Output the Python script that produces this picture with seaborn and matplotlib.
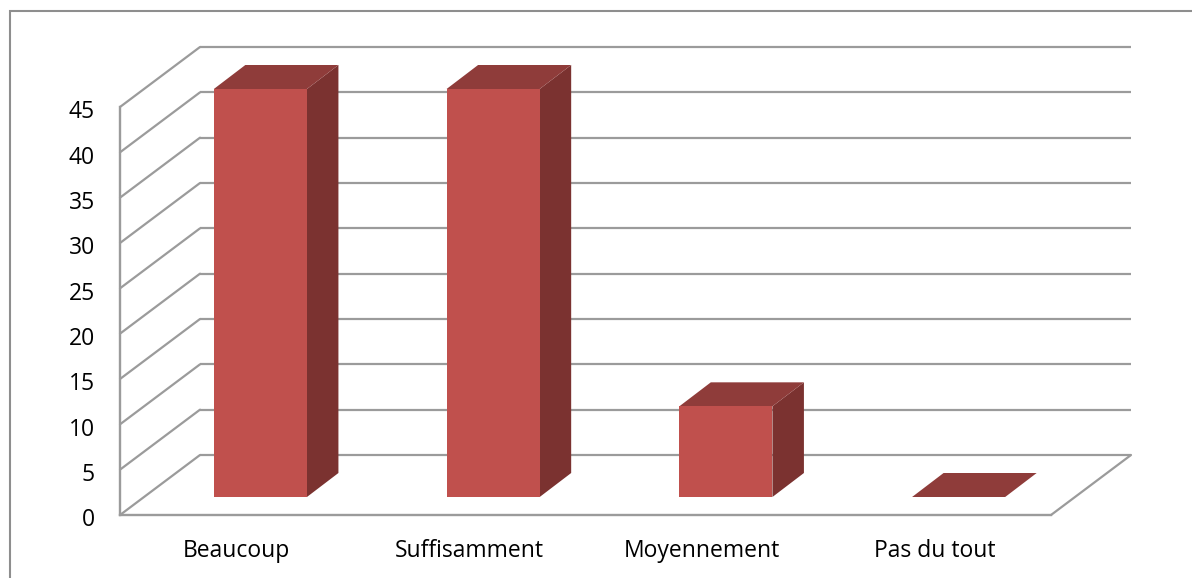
import matplotlib
matplotlib.use("Agg")
import matplotlib.pyplot as plt
from matplotlib.patches import Polygon, Rectangle
from matplotlib.transforms import Affine2D
import seaborn as sns

categories = ["Beaucoup", "Suffisamment", "Moyennement", "Pas du tout"]
values = [45, 45, 10, 0]
y_ticks = [0, 5, 10, 15, 20, 25, 30, 35, 40, 45]

FRONT = "#C0504D"
SIDE = "#7B3230"
TOP = "#8F3C3A"
GRID = "#9B9B9B"
FRAME = "#8E8E8E"

W, H = 1192, 578
sns.set_theme(style="white")
plt.rcParams["font.family"] = ["Open Sans", "DejaVu Sans"]

fig = plt.figure(figsize=(W / 100, H / 100), dpi=100, facecolor="white")

# Outer chart frame, cut off by the right and bottom edges of the figure
fig.add_artist(Rectangle((10 / W, -0.1), 1.2, 1.1 - 11 / H, transform=fig.transFigure,
                         fill=False, edgecolor=FRAME, linewidth=1.5))

# Axes rectangle is the front plane of the pseudo-3D box
ax = fig.add_axes([120 / W, 1 - 515 / H, (1051 - 120) / W, (515 - 107) / H])
ax.patch.set_alpha(0)

# Perspective offsets in display pixels (y upward)
wall_shift = Affine2D().translate(80, 60)
bar_shift = Affine2D().translate(24, 18)
bar_depth = Affine2D().translate(31.5, 24)

sns.barplot(x=categories, y=values, color=FRONT, saturation=1, width=0.4, ax=ax, zorder=4)
ax.set_xlim(-0.5, 3.5)
ax.set_ylim(0, 45)

# Back wall gridlines, side wall diagonals and the floor
x_left, x_right = ax.get_xlim()
back = ax.transData + wall_shift
for tick in y_ticks:
    ax.plot([x_left, x_right], [tick, tick], color=GRID, lw=1.6, transform=back,
            clip_on=False, zorder=1, solid_capstyle="butt")
    start = ax.transData.transform((x_left, tick))
    end = back.transform((x_left, tick))
    inv = ax.transData.inverted()
    (sx, sy), (ex, ey) = inv.transform(start), inv.transform(end)
    ax.plot([sx, ex], [sy, ey], color=GRID, lw=1.6, clip_on=False, zorder=1)
corner = ax.transData.inverted().transform(back.transform((x_right, 0)))
ax.plot([x_right, corner[0]], [0, corner[1]], color=GRID, lw=1.6, clip_on=False, zorder=1)

# Shift the seaborn bars back onto the floor and add side and top faces
to_data = ax.transData.inverted()
for bar in list(ax.patches):
    x0, w, h = bar.get_x(), bar.get_width(), bar.get_height()
    front_tf = ax.transData + bar_shift
    bar.set_transform(front_tf)
    bar.set_clip_on(False)
    bar.set_edgecolor("none")
    corners = {
        name: front_tf.transform(pt)
        for name, pt in {"bl": (x0, 0), "br": (x0 + w, 0), "tl": (x0, h), "tr": (x0 + w, h)}.items()
    }
    behind = {name: bar_depth.transform(pt) for name, pt in corners.items()}
    side = [corners["br"], behind["br"], behind["tr"], corners["tr"]]
    top = [corners["tl"], corners["tr"], behind["tr"], behind["tl"]]
    if h > 0:
        ax.add_patch(Polygon(to_data.transform(side), closed=True, facecolor=SIDE,
                             edgecolor="none", clip_on=False, zorder=3))
    ax.add_patch(Polygon(to_data.transform(top), closed=True, facecolor=TOP,
                         edgecolor="none", clip_on=False, zorder=3))

ax.set_xlim(x_left, x_right)
ax.set_ylim(0, 45)
ax.set_yticks(y_ticks)
ax.set_xticks(range(len(categories)))
ax.set_xticklabels(categories)
ax.tick_params(axis="both", length=0, labelsize=16.5, labelcolor="black")
ax.tick_params(axis="y", pad=18)
ax.tick_params(axis="x", pad=17)
for label in ax.get_yticklabels():
    label.set_transform(label.get_transform() + Affine2D().translate(0, -2.5))

sns.despine(ax=ax, top=True, right=True)
for name in ("left", "bottom"):
    ax.spines[name].set_color(GRID)
    ax.spines[name].set_linewidth(1.7)
    ax.spines[name].set_zorder(2)

fig.savefig("out.png", dpi=100, facecolor="white")
